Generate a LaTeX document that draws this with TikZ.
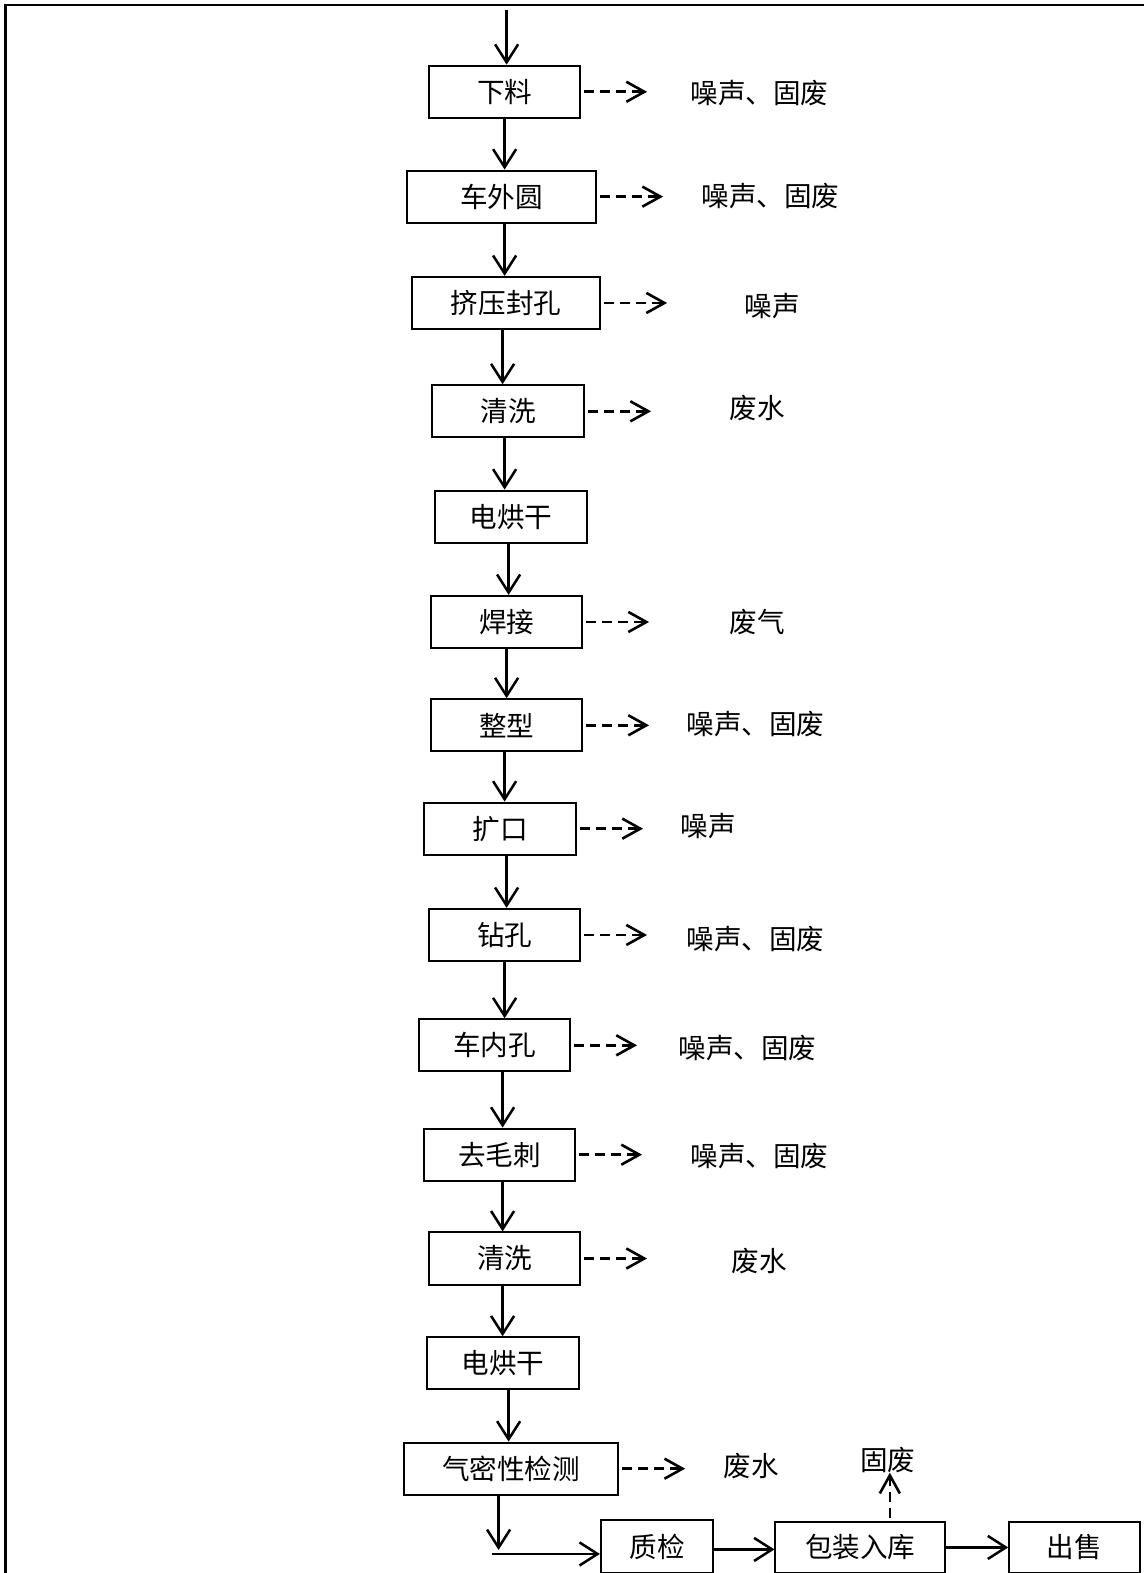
\documentclass[tikz,border=0pt]{standalone}
\usepackage{fontspec}
\setmainfont{Noto Sans CJK SC}
\usetikzlibrary{arrows.meta}
\tikzset{
  box/.style={draw, line width=2pt, minimum height=52pt, inner sep=0pt, font=\fontsize{27.5}{30}\selectfont},
  lab/.style={inner sep=0pt, font=\fontsize{27.5}{30}\selectfont},
  arr/.style={line width=2.5pt, -{Straight Barb[length=18pt,width=23pt,line width=2.5pt]}},
  darr/.style={line width=2.6pt, dash pattern=on 10pt off 6pt, shorten <=3pt, -{Straight Barb[length=18pt,width=20pt,line width=2.6pt]}},
}
\begin{document}
\begin{tikzpicture}[x=1pt,y=-1pt]
\useasboundingbox (0,0) rectangle (1140,1568);
% border (top and left visible)
\draw[line width=2.4pt] (5.5,1568) -- (5.5,5) -- (1140,5);

\node[box, minimum width=150pt] (b1) at (503,91.5) {下料};
\node[box, minimum width=188pt] (b2) at (500,196) {车外圆};
\node[box, minimum width=187pt] (b3) at (504.5,302) {挤压封孔};
\node[box, minimum width=151pt] (b4) at (506.5,410) {清洗};
\node[box, minimum width=151pt] (b5) at (509.5,515) {电烘干};
\node[box, minimum width=150pt] (b6) at (505,620) {焊接};
\node[box, minimum width=150pt] (b7) at (505,723) {整型};
\node[box, minimum width=151pt] (b8) at (498.5,826) {扩口};
\node[box, minimum width=150pt] (b9) at (503,932) {钻孔};
\node[box, minimum width=150pt] (b10) at (493,1042) {车内孔};
\node[box, minimum width=150pt] (b11) at (498,1151) {去毛刺};
\node[box, minimum width=150pt] (b12) at (503,1254.5) {清洗};
\node[box, minimum width=151pt] (b13) at (501.5,1359) {电烘干};
\node[box, minimum width=213pt] (b14) at (509.5,1464) {气密性检测};
\node[box, minimum width=112pt, minimum height=53pt] (b15) at (655,1541.5) {质检};
\node[box, minimum width=169pt, minimum height=51pt] (b16) at (857.5,1542.5) {包装入库};
\node[box, minimum width=130pt, minimum height=51pt] (b17) at (1071,1542.5) {出售};

% labels
\node[lab] (l1) at (757,93) {噪声、固废};
\node[lab] (l2) at (768,195) {噪声、固废};
\node[lab] (l3) at (770,305) {噪声};
\node[lab] (l4) at (755,407) {废水};
\node[lab] (l6) at (755,620) {废气};
\node[lab] (l7) at (753,722) {噪声、固废};
\node[lab] (l8) at (706,823) {噪声};
\node[lab] (l9) at (753,936) {噪声、固废};
\node[lab] (l10) at (745,1045) {噪声、固废};
\node[lab] (l11) at (757,1152) {噪声、固废};
\node[lab] (l12) at (757,1257) {废水};
\node[lab] (l14) at (749,1461) {废水};
\node[lab] (l16) at (885,1455) {固废};

% main flow
\coordinate (start) at (505,10);
\draw[arr] (start) -- (start |- b1.north);
\draw[arr] (b1.south) -- (b1.south |- b2.north);
\draw[arr] ([xshift=3pt]b2.south) -- ([xshift=3pt]b2.south |- b3.north);
\draw[arr] ([xshift=-3.5pt]b3.south) -- ([xshift=-3.5pt]b3.south |- b4.north);
\draw[arr] ([xshift=-3.5pt]b4.south) -- ([xshift=-3.5pt]b4.south |- b5.north);
\draw[arr] ([xshift=-2.5pt]b5.south) -- ([xshift=-2.5pt]b5.south |- b6.north);
\draw[arr] (b6.south) -- (b6.south |- b7.north);
\draw[arr] ([xshift=-2pt]b7.south) -- ([xshift=-2pt]b7.south |- b8.north);
\draw[arr] ([xshift=6.5pt]b8.south) -- ([xshift=6.5pt]b8.south |- b9.north);
\draw[arr] (b9.south) -- (b9.south |- b10.north);
\draw[arr] ([xshift=8pt]b10.south) -- ([xshift=8pt]b10.south |- b11.north);
\draw[arr] ([xshift=3pt]b11.south) -- ([xshift=3pt]b11.south |- b12.north);
\draw[arr] ([xshift=-2pt]b12.south) -- ([xshift=-2pt]b12.south |- b13.north);
\draw[arr] ([xshift=5.5pt]b13.south) -- ([xshift=5.5pt]b13.south |- b14.north);
\coordinate (down) at (497,1545);
\draw[arr] (b14.south -| down) -- (down);
\coordinate (hstart) at (490,1549);
\draw[arr] (hstart) -- (hstart -| b15.west);
\draw[arr] ([yshift=-3pt]b15.east) -- ([yshift=-3pt]b15.east -| b16.west);
\draw[arr] (b16.east) -- (b17.west);

% emissions
\foreach \b/\l in {b1/l1,b2/l2,b3/l3,b4/l4,b6/l6,b7/l7,b8/l8,b9/l9,b10/l10,b11/l11,b12/l12,b14/l14}{
  \draw[darr] (\b.east) -- ([xshift=66pt]\b.east);
}
\coordinate (up) at (887,1468);
\draw[darr] (b16.north -| up) -- (up);
\end{tikzpicture}
\end{document}
